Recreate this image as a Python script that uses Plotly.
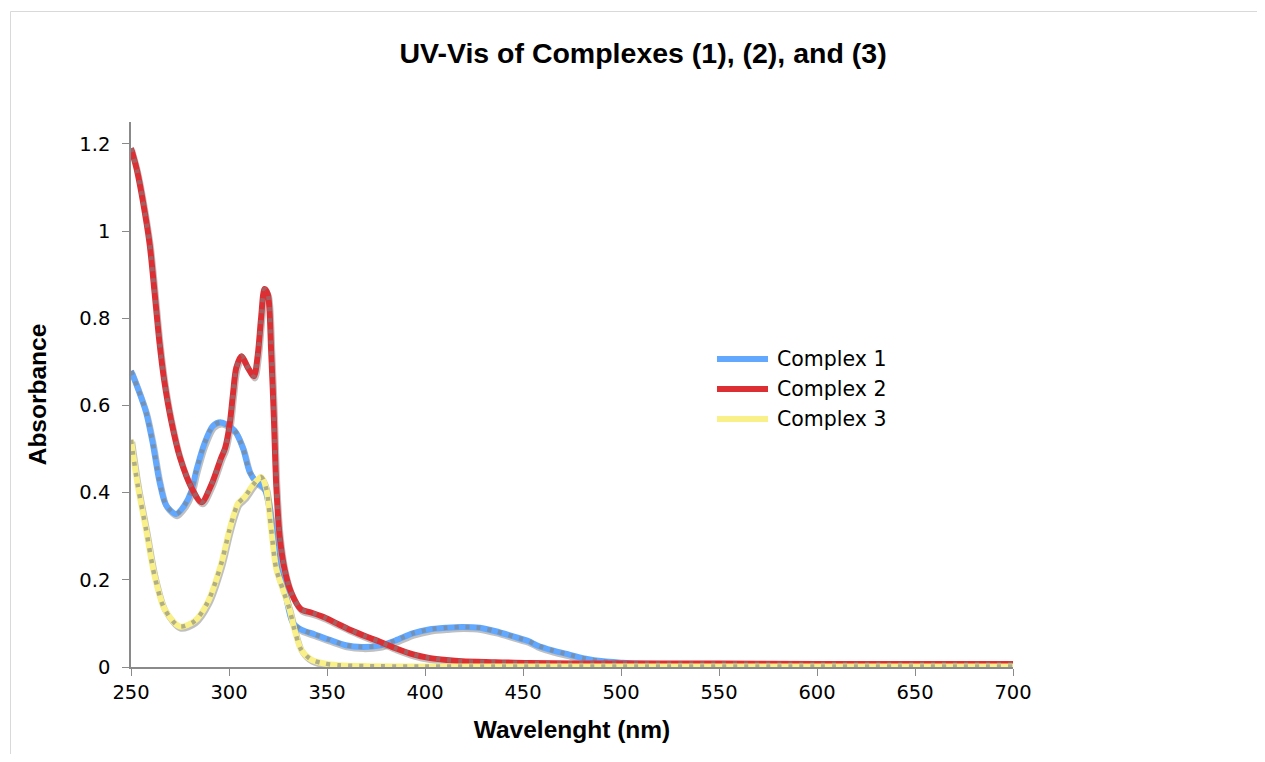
import plotly.graph_objects as go

# ---------------- data ----------------
wl_c1 = [250, 253.4, 257.7, 261.1, 264.5, 267.9, 273, 277.3, 280.7, 283.3, 287.5, 291.8, 296,
         302.9, 307.1, 310.5, 313.9, 318.1, 321.5, 324.9, 328.3, 332.5, 336.8, 343.6, 351,
         359.6, 368, 376.6, 385, 393.7, 402, 411, 419, 428, 436, 445, 453, 457, 465, 474,
         482, 491, 500, 508, 550, 600, 650, 700]
abs_c1 = [0.679, 0.64, 0.584, 0.513, 0.426, 0.371, 0.351, 0.371, 0.402, 0.45, 0.513, 0.553, 0.561,
          0.542, 0.502, 0.448, 0.425, 0.409, 0.34, 0.225, 0.178, 0.102, 0.086, 0.075, 0.063,
          0.05, 0.046, 0.049, 0.061, 0.077, 0.086, 0.09, 0.092, 0.09, 0.082, 0.07, 0.059, 0.05,
          0.038, 0.028, 0.019, 0.013, 0.01, 0.008, 0.006, 0.005, 0.005, 0.005]

wl_c2 = [250, 253, 256, 259.5, 262, 264.5, 267, 270.5, 275, 281, 286, 291, 296, 298, 300.3, 302,
         303.7, 306.3, 309.7, 312.7, 314.7, 316.4, 318.1, 319.8, 321.5, 322.9, 324.1, 325.8,
         328.3, 331.7, 336.8, 341.9, 348.6, 355, 362, 370, 377, 385, 394, 402, 411, 419, 436,
         453, 500, 550, 600, 650, 700]
abs_c2 = [1.19, 1.14, 1.07, 0.97, 0.86, 0.745, 0.655, 0.565, 0.48, 0.41, 0.378, 0.418, 0.48, 0.502,
          0.555, 0.625, 0.686, 0.713, 0.686, 0.667, 0.717, 0.802, 0.867, 0.855, 0.725, 0.571,
          0.417, 0.302, 0.225, 0.171, 0.132, 0.125, 0.114, 0.1, 0.085, 0.07, 0.058, 0.043,
          0.029, 0.021, 0.016, 0.013, 0.011, 0.009, 0.008, 0.008, 0.007, 0.007, 0.007]

wl_c3 = [250, 253.4, 257.7, 261.9, 267.1, 274.7, 282.4, 289.2, 296, 300, 302.5, 304.6, 308,
         312.2, 316.4, 319, 321.5, 324.1, 327.5, 330.9, 333.4, 336.8, 341.9, 348.6, 356, 370,
         400, 500, 600, 700]
abs_c3 = [0.521, 0.418, 0.315, 0.212, 0.133, 0.093, 0.105, 0.149, 0.236, 0.31, 0.35, 0.375, 0.39,
          0.417, 0.436, 0.409, 0.317, 0.225, 0.178, 0.132, 0.086, 0.04, 0.017, 0.008, 0.004,
          0.002, 0.001, 0.001, 0.001, 0.001]

series_names = ["Complex 1", "Complex 2", "Complex 3"]
series_colors = ["#62a8ff", "#dc2f34", "#f9f08a"]

x_ticks = [250, 300, 350, 400, 450, 500, 550, 600, 650, 700]

# ---------------- layout constants ----------------
OFF = 8                      # page body margin
W, H = 1265 - 2 * OFF, 762 - 2 * OFF
L, R, T, B = 131 - OFF, 1265 - 1013 - OFF, 122 - OFF, 762 - 667 - OFF
PW, PH = W - L - R, H - T - B


def px_x(px):
    return (px - OFF - L) / PW


def px_y(py):
    return (H - B - (py - OFF)) / PH


fig = go.Figure()
data = [(wl_c1, abs_c1), (wl_c2, abs_c2), (wl_c3, abs_c3)]
SPL = dict(shape="spline", smoothing=0.8)

# shadows
for (wl, ab) in data:
    fig.add_trace(go.Scatter(
        x=[w + 0.6 for w in wl], y=[a - 0.005 for a in ab], mode="lines",
        line=dict(color="rgba(140,140,140,0.55)", width=6, **SPL),
        hoverinfo="skip", showlegend=False))

# coloured lines + dashed grey overlay
for (wl, ab), name, col in zip(data, series_names, series_colors):
    fig.add_trace(go.Scatter(
        x=wl, y=ab, mode="lines", name=name,
        line=dict(color=col, width=6, **SPL),
        showlegend=False))
    fig.add_trace(go.Scatter(
        x=wl, y=ab, mode="lines",
        line=dict(color="rgba(128,128,128,0.6)", width=4.5, dash="4px,7px", **SPL),
        hoverinfo="skip", showlegend=False))

# manual legend
leg_y = [359, 389, 419]
for name, col, ly in zip(series_names, series_colors, leg_y):
    fig.add_shape(type="line", xref="paper", yref="paper",
                  x0=px_x(717), x1=px_x(768), y0=px_y(ly), y1=px_y(ly),
                  line=dict(color=col, width=6))
    fig.add_annotation(xref="paper", yref="paper", x=px_x(775), y=px_y(ly),
                       text=name, showarrow=False, xanchor="left", yanchor="middle",
                       font=dict(family="DejaVu Sans, Verdana", size=20.5, color="#000"))

# outer border (only top and left edges are visible in the reference)
fig.add_shape(type="line", xref="paper", yref="paper",
              x0=px_x(10.5), x1=px_x(1265), y0=px_y(11.5), y1=px_y(11.5),
              line=dict(color="#d9d9d9", width=1), layer="below")
fig.add_shape(type="line", xref="paper", yref="paper",
              x0=px_x(10.5), x1=px_x(10.5), y0=px_y(11.5), y1=px_y(762),
              line=dict(color="#d9d9d9", width=1), layer="below")

fig.update_layout(
    width=W, height=H, autosize=False,
    margin=dict(l=L, r=R, t=T, b=B),
    paper_bgcolor="white", plot_bgcolor="white",
    title=dict(text="UV-Vis of Complexes (1), (2), and (3)", x=(643 - OFF) / W, xanchor="center",
               y=1 - (53 - OFF) / H, yanchor="middle", yref="container",
               font=dict(family="Liberation Sans, Arial", size=28.5, weight="bold", color="#000")),
    font=dict(family="DejaVu Sans, Verdana", size=19, color="#000"),
    showlegend=False,
    xaxis=dict(range=[250, 700], tickvals=x_ticks, ticks="outside", ticklen=7,
               tickcolor="#8a8a8a", showline=True, linecolor="#8a8a8a", linewidth=1.5,
               showgrid=False, zeroline=False,
               tickfont=dict(family="DejaVu Sans, Verdana", size=19.5),
               title=dict(text="Wavelenght (nm)", standoff=18,
                          font=dict(family="Liberation Sans, Arial", size=24.5, weight="bold"))),
    yaxis=dict(range=[0, 1.25], tick0=0, dtick=0.2, ticks="outside", ticklen=7,
               tickcolor="#8a8a8a", showline=True, linecolor="#8a8a8a", linewidth=1.5,
               showgrid=False, zeroline=False, ticklabelstandoff=8,
               tickfont=dict(family="DejaVu Sans, Verdana", size=19.5),
               title=dict(text="Absorbance", standoff=26,
                          font=dict(family="Liberation Sans, Arial", size=24.5, weight="bold"))),
)

fig.write_html("out.html")
